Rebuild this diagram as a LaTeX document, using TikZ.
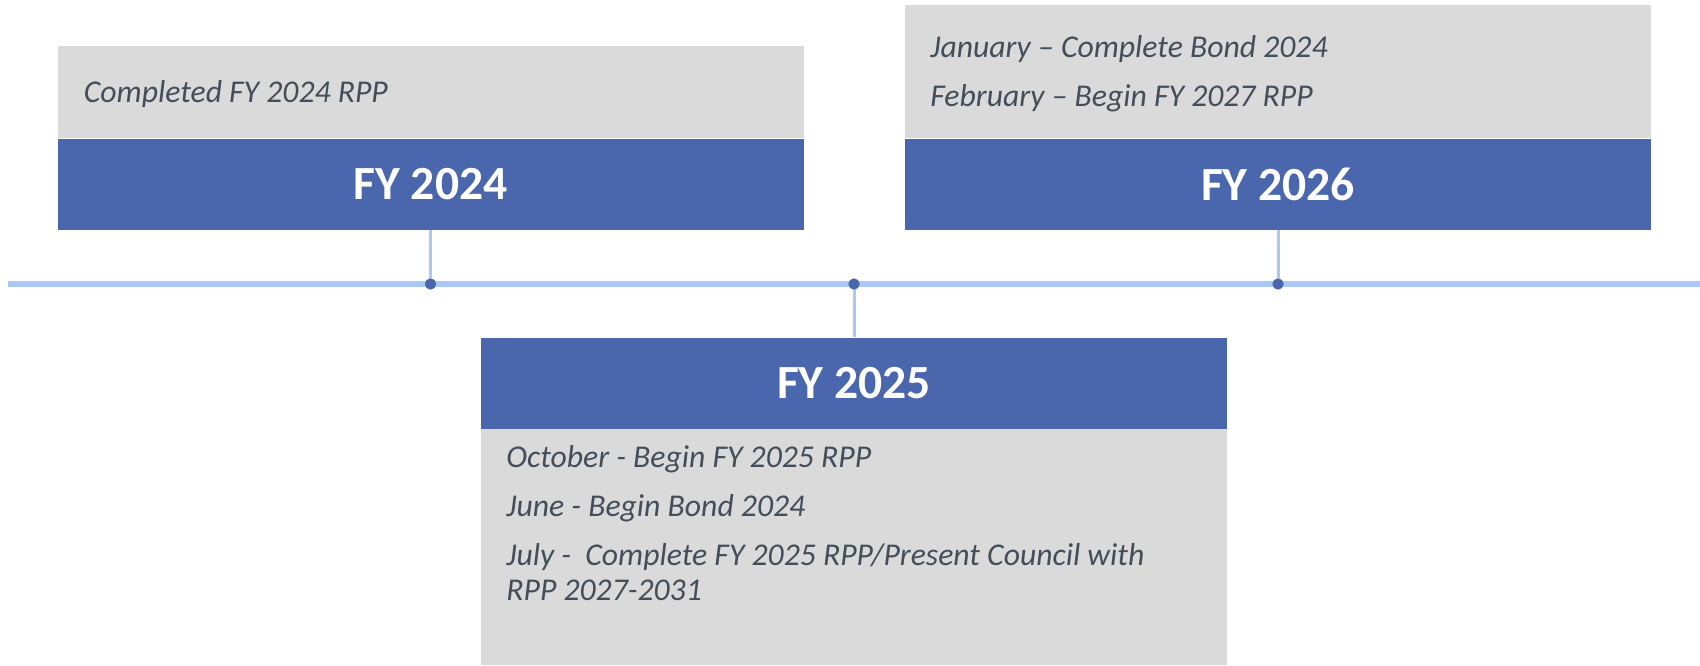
\documentclass[tikz,border=0pt]{standalone}
\usepackage{fontspec}
\setmainfont{Carlito}
\definecolor{hdrblue}{HTML}{4A66AC}
\definecolor{boxgray}{HTML}{DADADA}
\definecolor{lineblue}{HTML}{A9C8F3}
\definecolor{txtgray}{HTML}{434E5A}
\tikzset{
  hdr/.style={fill=hdrblue, text=white, minimum width=373pt, minimum height=45.5pt, inner sep=0pt,
    font=\fontsize{23.8}{28}\selectfont\bfseries},
  gbox/.style={fill=boxgray, minimum width=373pt, inner sep=0pt},
  item/.style={anchor=base west, inner sep=0pt, text=txtgray,
    font=\fontsize{15.85}{17.5}\selectfont\itshape},
  tdot/.style={circle, fill=hdrblue, minimum size=5.5pt, inner sep=0pt},
  conn/.style={draw=lineblue, line width=1.5pt},
  tline/.style={draw=lineblue, line width=3.3pt}
}
\begin{document}
\begin{tikzpicture}[x=0.5pt, y=-0.5pt]
\useasboundingbox (0,0) rectangle (1700,665);
% header boxes
\node[hdr] (h24) at (430.5,184.5) {FY 2024};
\node[hdr] (h26) at (1278,184.5) {FY 2026};
\node[hdr] (h25) at (854,383) {FY 2025};
% gray boxes
\node[gbox, minimum height=46pt, anchor=south] (g24) at (h24.north) {};
\node[gbox, minimum height=66.8pt, anchor=south] (g26) at (h26.north) {};
\node[gbox, minimum height=118pt, anchor=north] (g25) at (h25.south) {};
% timeline
\coordinate (tl) at (7.6,284);
\coordinate (tr) at (1700,284);
\draw[tline] (tl) -- (tr);
% dots
\node[tdot] (d24) at (430.5,284) {};
\node[tdot] (d25) at (854,284) {};
\node[tdot] (d26) at (1278,284) {};
% connectors
\draw[conn] (h24.south) -- (d24.center);
\draw[conn] (h26.south) -- (d26.center);
\draw[conn] (d25.center) -- (h25.north);
\node[tdot] at (d24) {};
\node[tdot] at (d25) {};
\node[tdot] at (d26) {};
% texts
\node[item] (t1) at (83.5,102) {Completed FY 2024 RPP};
\node[item] (t2) at (930,57) {January – Complete Bond 2024};
\node[item] (t3) at (930,106) {February – Begin FY 2027 RPP};
\node[item] (t4) at (506,467) {October - Begin FY 2025 RPP};
\node[item] (t5) at (506,516) {June - Begin Bond 2024};
\node[item] (t6) at (506,565) {July -\ \ Complete FY 2025 RPP/Present Council with};
\node[item] (t7) at (506,600) {RPP 2027-2031};
\end{tikzpicture}
\end{document}
